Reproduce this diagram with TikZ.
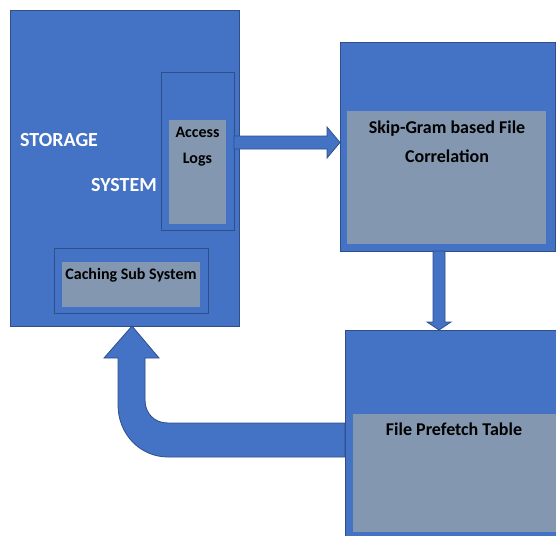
\documentclass[tikz,border=0pt]{standalone}
\usepackage{fontspec}
\setmainfont{Carlito}
\usetikzlibrary{calc}
\definecolor{boxblue}{HTML}{4472C4}
\definecolor{boxedge}{HTML}{2F4F8A}
\definecolor{panelgray}{HTML}{8497B0}
\tikzset{
  block/.style={draw=boxedge, line width=0.9pt, fill=boxblue, rectangle,
    inner sep=0pt, outer sep=0pt, anchor=north west},
  panel/.style={fill=panelgray, rectangle, inner sep=0pt, outer sep=0pt,
    anchor=north west},
  flow/.style={draw=boxedge, line width=0.8pt, fill=boxblue, line join=miter},
  lbl/.style={font=\bfseries\fontsize{#1}{#1}\selectfont, inner sep=0pt},
}
\begin{document}
\begin{tikzpicture}[x=1pt, y=-1pt]
\useasboundingbox (0,0) rectangle (556,535);

% storage system with its two sub-blocks
\node[block, minimum width=229pt, minimum height=316pt] (storage) at (10,10) {};
\node[block, minimum width=73pt, minimum height=158pt] (access) at (161,72) {};
\node[panel, minimum width=57pt, minimum height=104pt] (accesspanel) at (169,120) {};
\node[block, minimum width=154pt, minimum height=65pt] (caching) at (54,248) {};
\node[panel, minimum width=138pt, minimum height=45pt] (cachingpanel) at (62,262) {};

\node[lbl=20, text=white, anchor=west] (storagetxt) at (20,140) {STORAGE};
\node[lbl=20, text=white, anchor=west] (systemtxt) at (91,185) {SYSTEM};
\node[lbl=16, align=center, font=\bfseries\fontsize{16}{26}\selectfont] (accesstxt) at (197.5,147) {Access\\Logs};
\node[lbl=16] (cachingtxt) at (131,275) {Caching Sub System};

% skip-gram correlation block
\node[block, minimum width=215pt, minimum height=209pt] (skip) at (340,42) {};
\node[panel, minimum width=199pt, minimum height=133pt] (skippanel) at (347,111) {};
\node[lbl=18, align=center, font=\bfseries\fontsize{18}{29}\selectfont] (skiptxt) at (447,142) {Skip-Gram based File\\Correlation};

% prefetch table block
\node[block, minimum width=212pt, minimum height=207pt] (prefetch) at (345,330) {};
\node[panel, minimum width=204pt, minimum height=118pt] (prefetchpanel) at (353,414) {};
\node[lbl=18] (prefetchtxt) at (454,429) {File Prefetch Table};

% access logs -> skip-gram
\draw[flow] (access.east |- 0,136) -- (327,136) -- (327,127)
  -- (skip.west |- 0,142.5) -- (327,158) -- (327,149) -- (access.east |- 0,149) -- cycle;

% skip-gram -> prefetch table
\draw[flow] (433,0 |- skip.south) -- (433,322) -- (427,322)
  -- (prefetch.north -| 439,0) -- (451,322) -- (445,322) -- (445,0 |- skip.south) -- cycle;

% prefetch table -> storage system (bent arrow)
\draw[flow] (prefetch.west |- 0,423) -- (168,423)
  .. controls (154,423) and (145,413) .. (145,400) -- (145,358) -- (159,358)
  -- (storage.south -| 132,0) -- (104,358) -- (118,358) -- (118,405)
  .. controls (118,434) and (140,457) .. (168,457) -- (prefetch.west |- 0,457) -- cycle;
\end{tikzpicture}
\end{document}
